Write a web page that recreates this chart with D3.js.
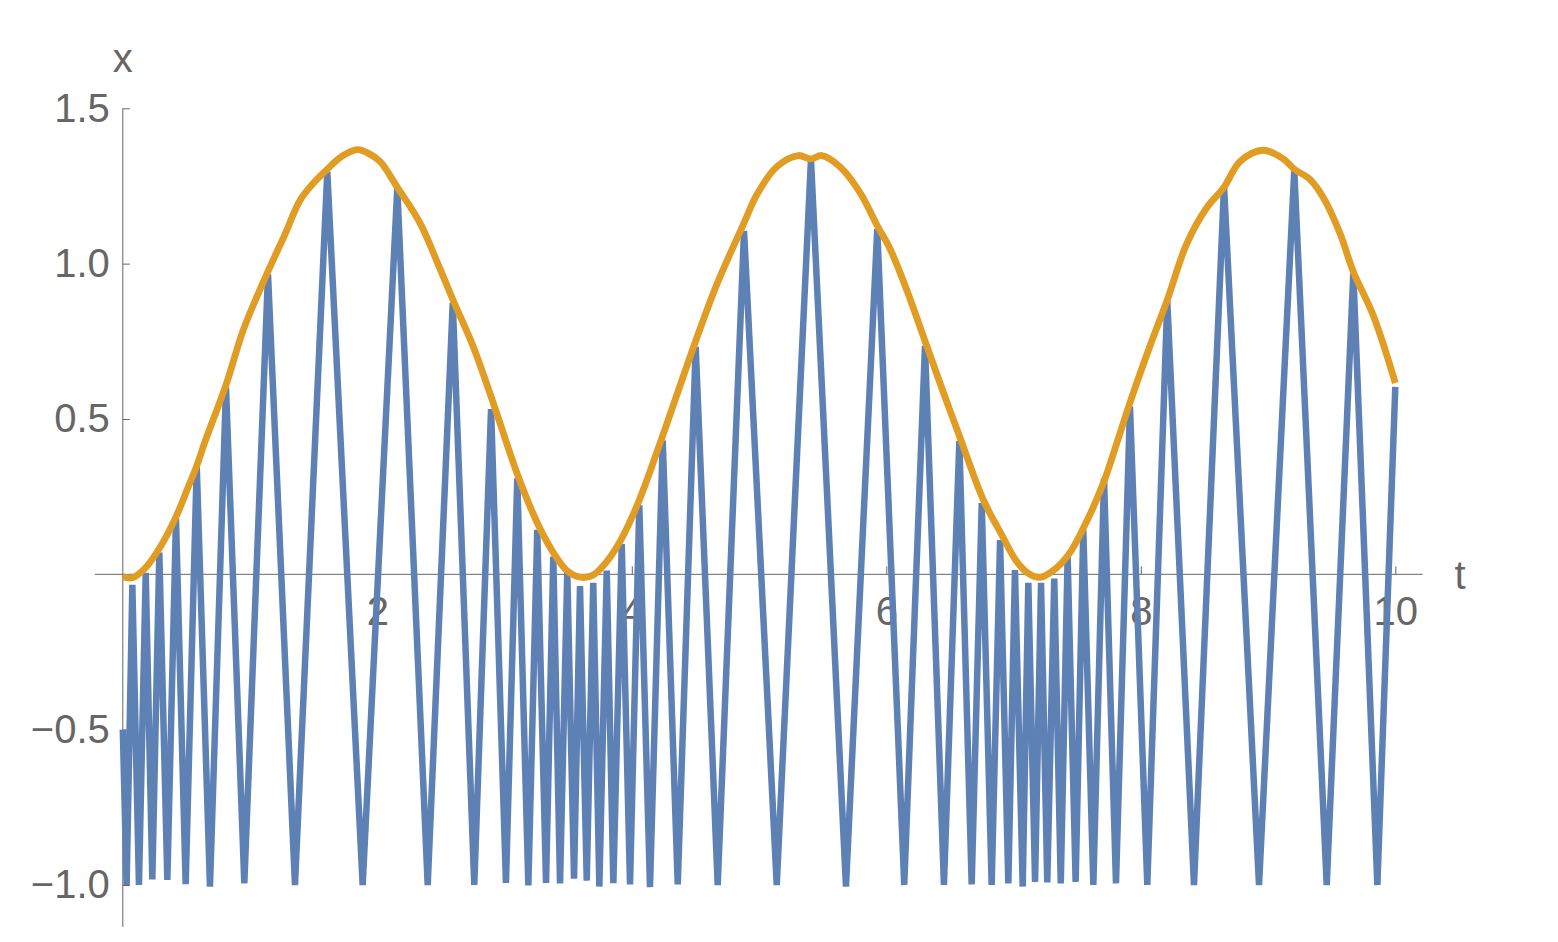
<!DOCTYPE html>
<html>
<head>
<meta charset="utf-8">
<script src="https://cdn.jsdelivr.net/npm/d3@7"></script>
<style>
  html, body { margin: 0; padding: 0; background: #fff; }
  svg { display: block; }
  .tick text { font-family: "Liberation Sans", Arial, sans-serif; }
</style>
</head>
<body>
<div id="chart"></div>
<script>
var tSignal = [0, 0.03, 0.075, 0.127, 0.18, 0.232, 0.287, 0.35, 0.418, 0.494,
  0.581, 0.685, 0.811, 0.955, 1.141, 1.353, 1.607, 1.885, 2.157, 2.396,
  2.593, 2.762, 2.894, 3.011, 3.1, 3.187, 3.257, 3.326, 3.383, 3.436,
  3.493, 3.546, 3.593, 3.646, 3.697, 3.745, 3.803, 3.855, 3.921, 3.986,
  4.059, 4.143, 4.243, 4.361, 4.502, 4.675, 4.882, 5.139, 5.408, 5.683,
  5.929, 6.141, 6.304, 6.453, 6.574, 6.671, 6.75, 6.828, 6.894, 6.959,
  7.011, 7.072, 7.116, 7.169, 7.216, 7.265, 7.32, 7.371, 7.425, 7.488,
  7.548, 7.627, 7.711, 7.805, 7.915, 8.051, 8.208, 8.418, 8.654, 8.929,
  9.206, 9.461, 9.67, 9.859, 10];
var xSignal = [-0.5, -1.0, -0.034, -1.0, 0.005, -0.982, 0.07, -0.984, 0.178, -0.997,
  0.349, -1.005, 0.6, -0.995, 0.965, -1.0, 1.295, -1.0, 1.243, -1.0,
  0.874, -1.0, 0.532, -0.993, 0.309, -1.001, 0.143, -0.993, 0.057, -0.995,
  0.008, -0.98, -0.038, -0.986, -0.027, -1.005, 0.012, -0.994, 0.097, -0.998,
  0.222, -1.007, 0.43, -0.998, 0.732, -1.0, 1.105, -1.0, 1.335, -1.005,
  1.111, -1.0, 0.735, -1.0, 0.429, -0.998, 0.229, -1.0, 0.11, -0.995,
  0.014, -1.005, -0.027, -0.99, -0.027, -0.992, -0.014, -0.995, 0.057, -0.99,
  0.143, -1.0, 0.309, -0.995, 0.54, -1.0, 0.88, -1.0, 1.25, -1.0,
  1.3, -1.0, 0.97, -1.0, 0.603];

// envelope (orange)
var tEnvelope = [0, 0.075, 0.174, 0.287, 0.418, 0.515, 0.581, 0.646, 0.811, 0.95,
  1.141, 1.27, 1.393, 1.5, 1.607, 1.72, 1.843, 1.93, 2.021, 2.155,
  2.335, 2.493, 2.595, 2.752, 2.91, 3.108, 3.265, 3.396, 3.501, 3.606,
  3.697, 3.803, 3.921, 4.059, 4.222, 4.502, 4.667, 4.882, 4.981, 5.139,
  5.308, 5.408, 5.492, 5.636, 5.793, 5.929, 6.029, 6.16, 6.304, 6.448,
  6.574, 6.762, 6.907, 7.025, 7.116, 7.208, 7.312, 7.43, 7.548, 7.705,
  7.811, 7.915, 8.072, 8.208, 8.361, 8.518, 8.654, 8.78, 8.963, 9.12,
  9.206, 9.33, 9.434, 9.565, 9.67, 9.827, 10];
var xEnvelope = [-0.008, -0.011, 0.019, 0.083, 0.185, 0.282, 0.349, 0.427, 0.61, 0.79,
  0.975, 1.09, 1.204, 1.26, 1.304, 1.345, 1.367, 1.355, 1.329, 1.247,
  1.131, 0.983, 0.883, 0.735, 0.553, 0.314, 0.159, 0.062, 0.008, -0.01,
  -0.002, 0.041, 0.116, 0.239, 0.422, 0.751, 0.932, 1.131, 1.221, 1.312,
  1.348, 1.337, 1.348, 1.312, 1.229, 1.122, 1.048, 0.916, 0.751, 0.586,
  0.446, 0.24, 0.127, 0.041, 0.003, -0.01, 0.012, 0.062, 0.148, 0.293,
  0.422, 0.553, 0.735, 0.883, 1.064, 1.18, 1.246, 1.329, 1.365, 1.337,
  1.304, 1.271, 1.213, 1.098, 0.974, 0.833, 0.616];

var xMajorTicks = [2, 4, 6, 8, 10];
var yMajorTicks = [-1.0, -0.5, 0.5, 1.0, 1.5];

var width = 1558, height = 942;

var svg = d3.select("#chart").append("svg")
    .attr("width", width)
    .attr("height", height);

var x = d3.scaleLinear().domain([0, 10]).range([122.8, 1395.3]);
var y = d3.scaleLinear().domain([-1, 1.5]).range([885, 108.3]);

var axisColor = "#666666";
var fontSize = 40;

// minor ticks every 0.5 on t, every 0.1 on x
var xMinor = d3.range(0.5, 10.01, 0.5).filter(function(v) { return xMajorTicks.indexOf(v) < 0; });
var yMinor = d3.range(-11, 16).map(function(i) { return i / 10; })
    .filter(function(v) { return v !== 0 && Math.abs(v * 2 - Math.round(v * 2)) > 1e-6; });

var gx = svg.append("g").attr("transform", "translate(0," + y(0) + ")");
gx.call(d3.axisBottom(x).tickValues(xMinor).tickSize(-4).tickFormat(""));
gx.call(d3.axisBottom(x).tickValues(xMajorTicks).tickSizeInner(-8).tickSizeOuter(0)
    .tickPadding(22).tickFormat(d3.format("d")));

var gy = svg.append("g").attr("transform", "translate(" + x(0) + ",0)");
gy.call(d3.axisLeft(y).tickValues(yMinor).tickSize(-4).tickFormat(""));
gy.call(d3.axisLeft(y).tickValues(yMajorTicks).tickSizeInner(-7).tickSizeOuter(0)
    .tickPadding(13).tickFormat(d3.format(".1f")));

svg.selectAll(".domain").remove();
svg.selectAll(".tick line").attr("stroke", axisColor).attr("stroke-width", 1);
svg.selectAll(".tick text")
    .attr("fill", axisColor)
    .style("font-size", fontSize + "px");

// axis lines, slightly longer than the data range like the original
svg.append("line")
    .attr("x1", x(-0.22)).attr("x2", x(10.215))
    .attr("y1", y(0)).attr("y2", y(0))
    .attr("stroke", axisColor).attr("stroke-width", 1);
svg.append("line")
    .attr("x1", x(0)).attr("x2", x(0))
    .attr("y1", y(1.5)).attr("y2", y(-1.135))
    .attr("stroke", axisColor).attr("stroke-width", 1);

// axis labels
svg.append("text")
    .attr("x", x(0)).attr("y", 72)
    .attr("text-anchor", "middle")
    .attr("fill", axisColor)
    .style("font-family", "'Liberation Sans', Arial, sans-serif")
    .style("font-size", fontSize + "px")
    .text("x");
svg.append("text")
    .attr("x", 1460).attr("y", y(0) + 15)
    .attr("text-anchor", "middle")
    .attr("fill", axisColor)
    .style("font-family", "'Liberation Sans', Arial, sans-serif")
    .style("font-size", fontSize + "px")
    .text("t");

var line = d3.line()
    .x(function(d) { return x(d[0]); })
    .y(function(d) { return y(d[1]); });

// envelope is a smooth curve in the original
var smoothLine = d3.line()
    .curve(d3.curveCatmullRom.alpha(0.5))
    .x(function(d) { return x(d[0]); })
    .y(function(d) { return y(d[1]); });

var signal = d3.zip(tSignal, xSignal);
var envelope = d3.zip(tEnvelope, xEnvelope);

svg.append("path")
    .datum(signal)
    .attr("d", line)
    .attr("fill", "none")
    .attr("stroke", "#5E81B5")
    .attr("stroke-width", 6.5);

svg.append("path")
    .datum(envelope)
    .attr("d", smoothLine)
    .attr("fill", "none")
    .attr("stroke", "#E19C24")
    .attr("stroke-width", 6.8)
    .attr("stroke-linejoin", "round");
</script>
</body>
</html>
